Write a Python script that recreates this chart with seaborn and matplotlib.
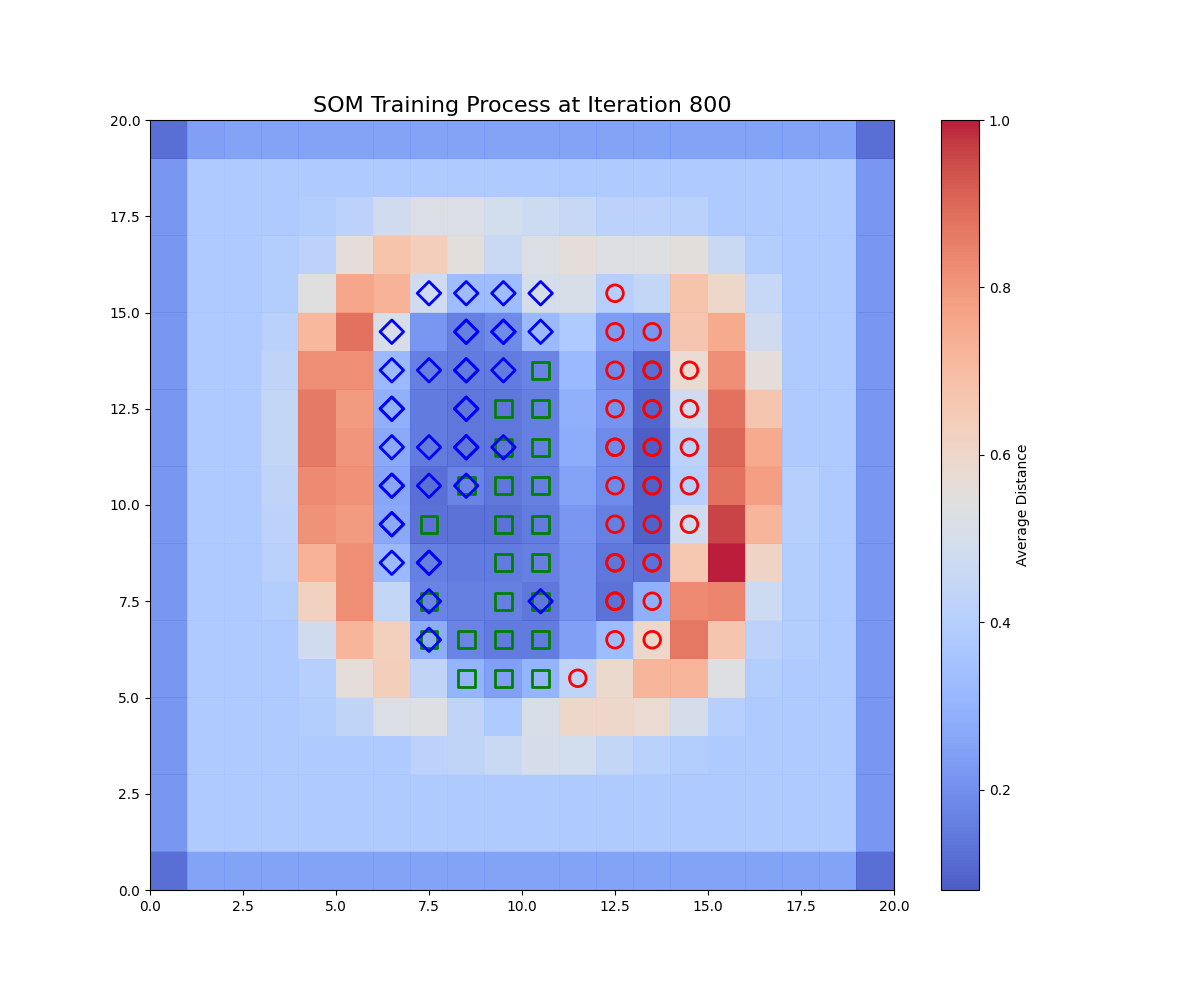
import numpy as np
import matplotlib
matplotlib.use("Agg")
import matplotlib.pyplot as plt
import seaborn as sns

# distance map, rows listed from top (y=19) to bottom (y=0), columns x=0..19
dist_rows = [
    [0.12, 0.24, 0.25, 0.25, 0.25, 0.25, 0.25, 0.25, 0.25, 0.25, 0.25, 0.25, 0.25, 0.25, 0.25, 0.25, 0.25, 0.25, 0.25, 0.12],
    [0.22, 0.38, 0.38, 0.38, 0.38, 0.38, 0.38, 0.38, 0.38, 0.38, 0.38, 0.38, 0.38, 0.38, 0.38, 0.38, 0.38, 0.38, 0.38, 0.22],
    [0.22, 0.38, 0.38, 0.38, 0.39, 0.42, 0.48, 0.52, 0.52, 0.49, 0.47, 0.45, 0.42, 0.42, 0.41, 0.38, 0.38, 0.38, 0.38, 0.22],
    [0.22, 0.38, 0.38, 0.39, 0.42, 0.56, 0.68, 0.64, 0.55, 0.46, 0.52, 0.56, 0.53, 0.53, 0.55, 0.46, 0.39, 0.38, 0.38, 0.22],
    [0.22, 0.38, 0.38, 0.39, 0.54, 0.76, 0.73, 0.48, 0.33, 0.33, 0.50, 0.51, 0.40, 0.44, 0.68, 0.60, 0.45, 0.38, 0.38, 0.22],
    [0.22, 0.38, 0.38, 0.41, 0.71, 0.88, 0.51, 0.22, 0.16, 0.19, 0.32, 0.38, 0.23, 0.22, 0.67, 0.75, 0.48, 0.38, 0.38, 0.22],
    [0.22, 0.38, 0.38, 0.43, 0.82, 0.82, 0.32, 0.16, 0.15, 0.15, 0.17, 0.32, 0.19, 0.12, 0.58, 0.82, 0.56, 0.38, 0.38, 0.22],
    [0.22, 0.38, 0.38, 0.44, 0.86, 0.79, 0.29, 0.15, 0.14, 0.14, 0.16, 0.29, 0.21, 0.10, 0.48, 0.88, 0.67, 0.38, 0.38, 0.22],
    [0.22, 0.38, 0.38, 0.44, 0.86, 0.80, 0.27, 0.15, 0.14, 0.14, 0.16, 0.28, 0.19, 0.08, 0.42, 0.90, 0.75, 0.38, 0.38, 0.22],
    [0.22, 0.38, 0.38, 0.43, 0.83, 0.81, 0.26, 0.12, 0.17, 0.14, 0.16, 0.25, 0.19, 0.09, 0.40, 0.88, 0.78, 0.40, 0.38, 0.22],
    [0.22, 0.38, 0.38, 0.42, 0.81, 0.79, 0.27, 0.13, 0.13, 0.13, 0.15, 0.22, 0.16, 0.09, 0.48, 0.96, 0.72, 0.40, 0.38, 0.22],
    [0.22, 0.38, 0.38, 0.41, 0.73, 0.82, 0.32, 0.16, 0.15, 0.15, 0.16, 0.21, 0.14, 0.13, 0.66, 1.00, 0.61, 0.39, 0.38, 0.22],
    [0.22, 0.38, 0.38, 0.39, 0.62, 0.82, 0.44, 0.17, 0.16, 0.16, 0.14, 0.21, 0.13, 0.29, 0.83, 0.84, 0.47, 0.39, 0.38, 0.22],
    [0.22, 0.38, 0.38, 0.38, 0.48, 0.72, 0.63, 0.28, 0.17, 0.15, 0.15, 0.24, 0.33, 0.60, 0.87, 0.67, 0.42, 0.39, 0.38, 0.22],
    [0.22, 0.38, 0.38, 0.38, 0.40, 0.56, 0.64, 0.43, 0.30, 0.24, 0.30, 0.43, 0.59, 0.72, 0.72, 0.53, 0.39, 0.38, 0.38, 0.22],
    [0.22, 0.38, 0.38, 0.38, 0.39, 0.43, 0.52, 0.53, 0.43, 0.38, 0.51, 0.60, 0.60, 0.58, 0.50, 0.40, 0.38, 0.38, 0.38, 0.22],
    [0.22, 0.38, 0.38, 0.38, 0.38, 0.38, 0.38, 0.42, 0.43, 0.46, 0.50, 0.49, 0.44, 0.41, 0.39, 0.38, 0.38, 0.38, 0.38, 0.22],
    [0.22, 0.38, 0.38, 0.38, 0.38, 0.38, 0.38, 0.38, 0.38, 0.38, 0.38, 0.38, 0.38, 0.38, 0.38, 0.38, 0.38, 0.38, 0.38, 0.22],
    [0.22, 0.38, 0.38, 0.38, 0.38, 0.38, 0.38, 0.38, 0.38, 0.38, 0.38, 0.38, 0.38, 0.38, 0.38, 0.38, 0.38, 0.38, 0.38, 0.22],
    [0.12, 0.25, 0.25, 0.25, 0.25, 0.25, 0.25, 0.25, 0.25, 0.25, 0.25, 0.25, 0.25, 0.25, 0.25, 0.25, 0.25, 0.25, 0.25, 0.12],
]

# winning neuron (x, y) per sample, grouped by class; repeats = several samples on one node
diamond_x = [7, 8, 9, 10, 6, 8, 8, 9, 9, 10, 6, 7, 8, 8, 9, 6, 6, 8, 8, 6, 7, 8, 8, 9,
             6, 6, 7, 8, 6, 6, 6, 7, 7, 7, 10, 7]
diamond_y = [15, 15, 15, 15, 14, 14, 14, 14, 14, 14, 13, 13, 13, 13, 13, 12, 12, 12, 12, 11, 11, 11, 11, 11,
             10, 10, 10, 10, 9, 9, 8, 8, 8, 7, 7, 6]
square_x = [10, 9, 10, 9, 10, 8, 9, 10, 7, 9, 10, 9, 10, 7, 9, 10, 7, 8, 9, 10, 8, 9, 10]
square_y = [13, 12, 12, 11, 11, 10, 10, 10, 9, 9, 9, 8, 8, 7, 7, 7, 6, 6, 6, 6, 5, 5, 5]
circle_x = [12, 12, 13, 12, 13, 13, 14, 12, 13, 13, 14, 12, 12, 13, 13, 14, 12, 13, 13, 14,
            12, 13, 14, 12, 12, 13, 13, 12, 12, 13, 12, 13, 11]
circle_y = [15, 14, 14, 13, 13, 13, 13, 12, 12, 12, 12, 11, 11, 11, 11, 11, 10, 10, 10, 10,
            9, 9, 9, 8, 8, 8, 8, 7, 7, 7, 6, 6, 5]

dist_map = np.flipud(np.array(dist_rows))

fig = plt.figure(figsize=(12, 10), dpi=100)
ax = plt.gca()
mesh = ax.pcolor(dist_map, cmap="coolwarm", alpha=0.9)
cbar = plt.colorbar(mesh)
cbar.set_label("Average Distance")

# squares first so the diamonds sit on top where they share a node
groups = [
    (square_x, square_y, "s", "g"),
    (diamond_x, diamond_y, "D", "b"),
    (circle_x, circle_y, "o", "r"),
]
for gx, gy, mk, col in groups:
    sns.scatterplot(x=np.array(gx) + 0.5, y=np.array(gy) + 0.5, marker=mk, s=144,
                    color=col, facecolor="none", edgecolor=col, linewidth=2, ax=ax)

ax.set_xlim(0, 20)
ax.set_ylim(0, 20)
ax.set_title("SOM Training Process at Iteration 800", fontsize=16)

plt.savefig("out.png")
